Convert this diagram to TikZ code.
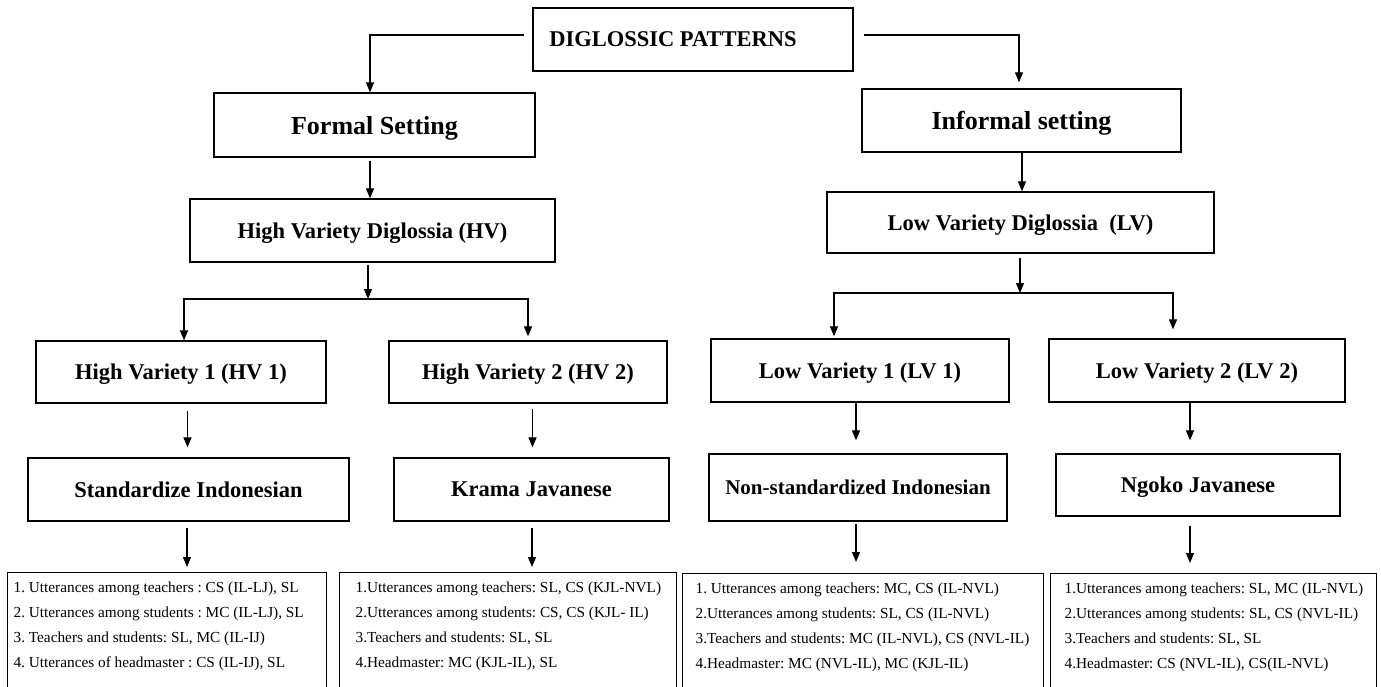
\documentclass[tikz,border=0pt]{standalone}
\usepackage{fontspec}
\setmainfont{Liberation Serif}
\usetikzlibrary{arrows.meta,calc}
\frenchspacing
\newcommand{\listbody}[3]{\begin{minipage}[t][150pt][t]{#1}\parindent=0pt\leftskip=#2\relax\rule{0pt}{20pt}#3\end{minipage}}
\begin{document}
\begin{tikzpicture}[x=1pt,y=-1pt,
  box/.style={draw=black, line width=1.3pt, inner sep=0pt, text depth=0pt,
    font=\fontsize{22.5}{27}\selectfont\bfseries},
  bigbox/.style={box, font=\fontsize{26}{30}\selectfont\bfseries},
  arr/.style={draw=black, line width=1.2pt, -{Triangle[length=10pt,width=8pt]}},
  lst/.style={draw=black, line width=1.2pt, inner sep=0pt, anchor=north west,
    font=\fontsize{15.3}{25}\selectfont}]
\clip (0,0) rectangle (1381,686);
\fill[white] (0,0) rectangle (1381,686);

% boxes
\node[box, minimum width=320pt, minimum height=63pt] (top) at (693,39.5) {DIGLOSSIC PATTERNS\hspace*{40pt}};
\node[bigbox, minimum width=321pt, minimum height=64pt] (formal) at (374.5,125) {Formal Setting};
\node[bigbox, minimum width=319pt, minimum height=63pt] (informal) at (1021.5,120.5) {Informal setting};
\node[box, minimum width=365pt, minimum height=63pt] (hv) at (372.5,230.5) {High Variety Diglossia (HV)};
\node[box, minimum width=387pt, minimum height=61pt] (lv) at (1020.5,222.5) {Low Variety Diglossia\ \ (LV)};
\node[box, minimum width=290pt, minimum height=62pt] (hv1) at (181,372) {High Variety 1 (HV 1)};
\node[box, minimum width=278pt, minimum height=62pt] (hv2) at (528,372) {High Variety 2 (HV 2)};
\node[box, minimum width=298pt, minimum height=63pt] (lv1) at (860,370.5) {Low Variety 1 (LV 1)};
\node[box, minimum width=296pt, minimum height=63pt] (lv2) at (1197,370.5) {Low Variety 2 (LV 2)};
\node[box, minimum width=321pt, minimum height=63pt] (std) at (188.5,489.5) {Standardize Indonesian};
\node[box, minimum width=275pt, minimum height=63pt] (krama) at (531.5,489.5) {Krama Javanese};
\node[box, font=\fontsize{21}{25}\selectfont\bfseries, minimum width=298pt, minimum height=67pt] (nonstd) at (858,487.5) {Non-standardized Indonesian};
\node[box, minimum width=284pt, minimum height=62pt] (ngoko) at (1198,485) {Ngoko Javanese};

% bottom lists
\node[lst] (b1) at (7,572) {\listbody{319pt}{6pt}{%
\mbox{1. Utterances among teachers : CS (IL-LJ), SL}\\
\mbox{2. Utterances among students : MC (IL-LJ), SL}\\
\mbox{3. Teachers and students: SL, MC (IL-IJ)}\\
\mbox{4. Utterances of headmaster : CS (IL-IJ), SL}}};
\node[lst] (b2) at (339,572) {\listbody{337pt}{16pt}{%
\mbox{1.Utterances among teachers: SL, CS (KJL-NVL)}\\
\mbox{2.Utterances among students: CS, CS (KJL- IL)}\\
\mbox{3.Teachers and students: SL, SL}\\
\mbox{4.Headmaster: MC (KJL-IL), SL}}};
\node[lst] (b3) at (682,573) {\listbody{361pt}{13pt}{%
\mbox{1. Utterances among teachers: MC, CS (IL-NVL)}\\
\mbox{2.Utterances among students: SL, CS (IL-NVL)}\\
\mbox{3.Teachers and students: MC (IL-NVL), CS (NVL-IL)}\\
\mbox{4.Headmaster: MC (NVL-IL), MC (KJL-IL)}}};
\node[lst] (b4) at (1050,573) {\listbody{326pt}{14pt}{%
\mbox{1.Utterances among teachers: SL, MC (IL-NVL)}\\
\mbox{2.Utterances among students: SL, CS (NVL-IL)}\\
\mbox{3.Teachers and students: SL, SL}\\
\mbox{4.Headmaster: CS (NVL-IL), CS(IL-NVL)}}};

% junctions
\coordinate (hvj) at (368,299);
\coordinate (lvj) at (1020,293);

% connectors
\draw[arr] ($(top.west)+(-8,-4.5)$) -| ($(formal.north)+(-4.5,0)$);
\draw[arr] ($(top.east)+(10,-4.5)$) -| ($(informal.north)+(-2.5,-6)$);
\draw[arr] ($(formal.south)+(-4.5,3)$) -- ($(hv.north)+(-2.5,0)$);
\draw[arr] ($(informal.south)+(0.5,0)$) -- ($(lv.north)+(1.5,0)$);
\draw[arr] ($(hv.south)+(-4.5,2)$) -- (hvj);
\draw[arr] (hvj) -| ($(hv1.north)+(3,0)$);
\draw[arr] (hvj) -| ($(hv2.north)+(0,-4)$);
\draw[arr] ($(lv.south)+(-0.5,4)$) -- (lvj);
\draw[arr] (lvj) -| ($(lv1.north)+(-26,-2)$);
\draw[arr] (lvj) -| ($(lv2.north)+(-24,-9)$);
\draw[arr] ($(hv1.south)+(6.5,7)$) -- ($(std.north)+(-1,-10)$);
\draw[arr] ($(hv2.south)+(4.5,5)$) -- ($(krama.north)+(1,-10)$);
\draw[arr] ($(lv1.south)+(-4,0)$) -- ($(nonstd.north)+(-2,-13)$);
\draw[arr] ($(lv2.south)+(-7,0)$) -- ($(ngoko.north)+(-8,-13)$);
\draw[arr] ($(std.south)+(-1.5,6)$) -- ($(std.south |- b1.north)+(-1.5,-5)$);
\draw[arr] ($(krama.south)+(0.5,6)$) -- ($(krama.south |- b2.north)+(0.5,-5)$);
\draw[arr] ($(nonstd.south)+(-2,2)$) -- ($(nonstd.south |- b3.north)+(-2,-11)$);
\draw[arr] ($(ngoko.south)+(-8,9)$) -- ($(ngoko.south |- b4.north)+(-8,-10)$);
\end{tikzpicture}
\end{document}
